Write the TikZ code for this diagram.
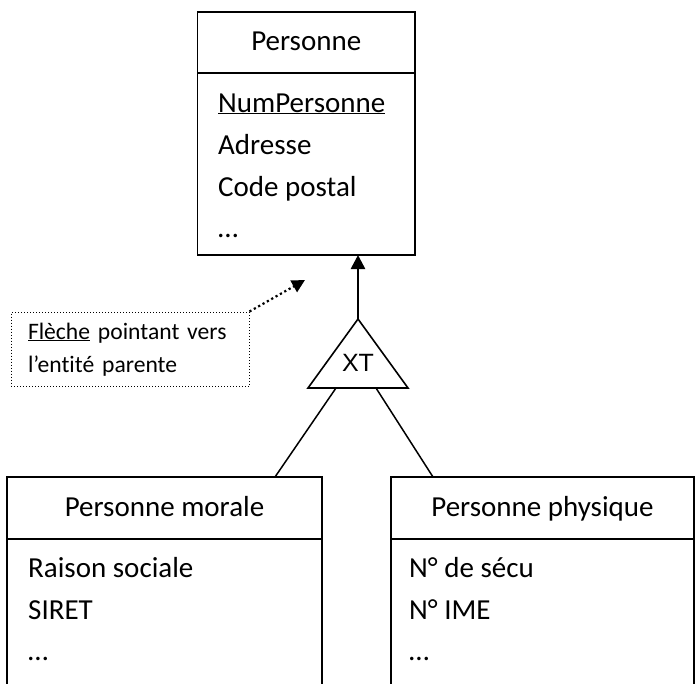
\documentclass[tikz,border=0pt]{standalone}
\usepackage{fontspec}
\setmainfont{Carlito}[Ligatures=NoCommon]
\newfontfamily\xtfont{Liberation Sans}
\usetikzlibrary{arrows.meta,calc}

\begin{document}
\begin{tikzpicture}[x=1pt, y=-1pt,
  box/.style={draw, line width=1.8pt, inner sep=0pt, outer sep=0pt,
    text height=21.75pt, text depth=5.25pt, font=\fontsize{29}{35}\selectfont},
  attr/.style={anchor=base west, inner sep=0pt, font=\fontsize{29}{35}\selectfont},
  link/.style={line width=1.5pt}]
  \useasboundingbox (0,0) rectangle (696,683);
  \clip (0,0) rectangle (696,683);
  % entite parente
  \node[box, minimum width=217.5pt, minimum height=61pt] (pers) at (306.25,42.5) {Personne};
  \node[box, minimum width=217.5pt, minimum height=182pt, anchor=north] (persattr) at (pers.south) {};
  \node[attr] (numpers) at (218,112) {\underline{NumPersonne}};
  \node[attr] (adresse) at (218,154) {Adresse};
  \node[attr] (cp) at (218,196) {Code postal};
  \node[attr] (persetc) at (218,237) {…};
  % entites filles
  \node[box, minimum width=315pt, minimum height=62pt] (morale) at (164.5,508) {Personne morale};
  \node[box, minimum width=315pt, minimum height=200pt, anchor=north] (moraleattr) at (morale.south) {};
  \node[attr] (raison) at (28,577) {Raison sociale};
  \node[attr] (siret) at (28,619) {SIRET};
  \node[attr] (moraleetc) at (28,660) {…};
  \node[box, minimum width=303pt, minimum height=62pt] (physique) at (542.5,508) {Personne physique};
  \node[box, minimum width=303pt, minimum height=200pt, anchor=north] (physiqueattr) at (physique.south) {};
  \node[attr] (secu) at (409,577) {N° de sécu};
  \node[attr] (ime) at (409,619) {N° IME};
  \node[attr] (physiqueetc) at (409,660) {…};
  % triangle XT
  \coordinate (xtapex) at (358,319);
  \coordinate (xtleft) at (308,388);
  \coordinate (xtright) at (408,388);
  \coordinate (xtbl) at (336,388);
  \coordinate (xtbr) at (376,388);
  \draw[line width=1.6pt] (xtapex) -- (xtleft) -- (xtright) -- cycle;
  \node[font=\xtfont\fontsize{25}{30}\selectfont, inner sep=0pt] (xt) at (358,363) {XT};
  \draw[line width=2.6pt, -{Triangle[length=14pt, width=14pt]}] (xtapex) -- (xtapex |- persattr.south);
  \draw[link] (xtbl) -- ([xshift=-47pt]morale.north east);
  \draw[link] (xtbr) -- ([xshift=42pt]physique.north west);
  % legende
  \node[draw, dotted, line width=1pt, minimum width=238pt, minimum height=74.5pt,
    text width=204pt, inner xsep=17pt, inner ysep=0pt, align=left,
    font=\fontsize{23.6}{33}\selectfont] (note) at (130,349.25)
    {\underline{Flèche} pointant vers\\l’entité parente};
  \coordinate (notetip) at (305,280);
  \draw[line width=2.2pt, dash pattern=on 2.2pt off 2.8pt, -{Triangle[length=13pt, width=13pt]}] (note.north east) -- (notetip);
\end{tikzpicture}
\end{document}
